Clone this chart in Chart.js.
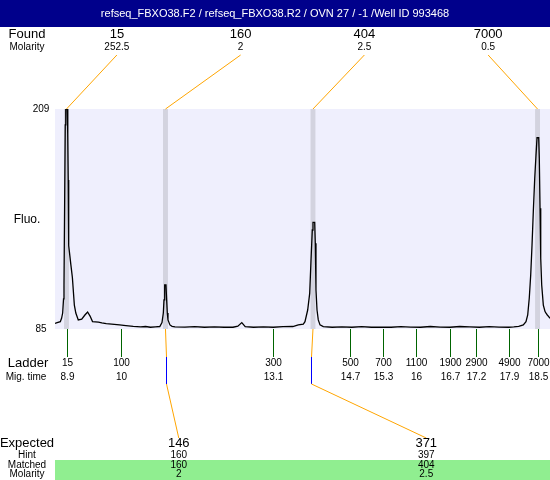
<!DOCTYPE html>
<html>
<head>
<meta charset="utf-8">
<script src="https://cdn.jsdelivr.net/npm/chart.js@4.4.1/dist/chart.umd.min.js"></script>
<style>
    body { margin: 0; background: #fff; }
    canvas { display: block; }
</style>
</head>
<body>
<canvas id="traceChart" width="550" height="480"></canvas>
<script>
var titleText = "refseq_FBXO38.F2 / refseq_FBXO38.R2 / OVN 27 / -1 /Well ID 993468";

// electropherogram trace (migration time, fluorescence)
var traceTime = [8.656, 8.70, 8.764, 8.79, 8.812, 8.83, 8.839, 8.853, 8.865, 8.875, 8.905, 8.915, 8.925, 8.935,
    8.98, 9.01, 9.05, 9.08, 9.13, 9.20, 9.265, 9.32, 9.37, 9.42, 9.54, 9.61, 9.70, 9.81, 9.97, 10.1, 10.25,
    10.4, 10.5, 10.6, 10.7, 10.79, 10.835, 10.862, 10.876, 10.89, 10.916, 10.93, 10.943, 10.957, 10.997, 11.04,
    11.1, 11.3, 11.5, 11.7, 11.9, 12.1, 12.28, 12.38, 12.46, 12.53, 12.7, 12.9, 13.1, 13.3, 13.5, 13.611,
    13.713, 13.747, 13.802, 13.843, 13.870, 13.896, 13.910, 13.945, 13.957, 13.971, 13.992, 14.018, 14.053,
    14.12, 14.3, 14.5, 14.7, 14.9, 15.1, 15.3, 15.5, 15.7, 15.9, 16.1, 16.3, 16.5, 16.7, 16.9, 17.1, 17.3,
    17.5, 17.7, 17.9, 18.0, 18.1, 18.193, 18.248, 18.283, 18.315, 18.344, 18.371, 18.397, 18.426, 18.452,
    18.473, 18.507, 18.519, 18.534, 18.548, 18.568, 18.601, 18.636, 18.656, 18.682, 18.711, 18.737];
var traceFluo = [88.2, 88.6, 89.1, 91.0, 94.0, 102.0, 110.0, 158.0, 200.0, 209.0, 209.0, 195.0, 169.0, 132.0,
    121.0, 114.0, 98.5, 94.0, 90.1, 90.6, 92.9, 94.6, 92.3, 89.2, 88.9, 88.4, 88.0, 87.8, 87.3, 86.9, 86.5,
    86.2, 86.4, 86.0, 86.2, 86.4, 88.6, 94.0, 101.4, 109.8, 109.8, 101.4, 94.0, 90.1, 87.3, 86.5,
    86.2, 86.1, 86.3, 86.0, 86.2, 86.0, 86.0, 86.6, 88.6, 86.3, 86.0, 86.2, 86.0, 86.3, 86.4, 87.3,
    87.8, 89.1, 95.7, 105.1, 123.9, 140.8, 145.1, 145.1, 133.3, 107.0, 95.7, 90.1, 87.3,
    86.3, 86.0, 86.2, 86.0, 86.3, 86.0, 86.1, 86.0, 86.3, 86.1, 86.0, 86.4, 86.1, 86.0, 86.4, 86.2, 86.0,
    86.3, 86.1, 86.0, 86.2, 86.5, 87.3, 89.1, 92.9, 102.5, 115.4, 132.3, 151.1, 170.0, 183.1,
    192.8, 192.8, 181.2, 153.0, 124.9, 109.8, 98.5, 94.8, 93.9, 92.9, 92.0, 91.0];

var timeMin = 8.656;
var timeMax = 18.737;
var fluoTicks = [85, 209];

// found peaks
var foundTimes = [8.89, 10.906, 13.91, 18.483];
var foundSizes = ["15", "160", "404", "7000"];
var foundMolarity = ["252.5", "2", "2.5", "0.5"];

// ladder
var ladderTimes = [8.9, 9.99, 13.1, 14.67, 15.34, 16.01, 16.71, 17.24, 17.91, 18.5];
var ladderSizes = ["15", "100", "300", "500", "700", "1100", "1900", "2900", "4900", "7000"];
var ladderMigTime = ["8.9", "10", "13.1", "14.7", "15.3", "16", "16.7", "17.2", "17.9", "18.5"];

// expected products
var expectedTimes = [10.922, 13.863];
var matchedTimes = [10.906, 13.91];
var expectedSizes = ["146", "371"];
var hintSizes = ["160", "397"];
var matchedSizes = ["160", "404"];
var matchedMolarity = ["2", "2.5"];

var fontName = "'Liberation Sans', Arial, sans-serif";

function drawText(ctx, txt, x, y, size, color, align) {
    ctx.font = size + "px " + fontName;
    ctx.fillStyle = color || "#000";
    ctx.textAlign = align || "center";
    ctx.textBaseline = "middle";
    ctx.fillText(txt, x, y);
}

function drawLine(ctx, x1, y1, x2, y2, color) {
    ctx.beginPath();
    ctx.strokeStyle = color;
    ctx.lineWidth = 1;
    ctx.moveTo(x1, y1);
    ctx.lineTo(x2, y2);
    ctx.stroke();
}

var decorations = {
    id: "decorations",
    beforeDatasetsDraw: function (chart) {
        var ctx = chart.ctx;
        var area = chart.chartArea;
        var xs = chart.scales.x;
        ctx.save();
        ctx.fillStyle = "rgb(239,239,253)";
        ctx.fillRect(area.left, area.top, area.right - area.left, area.bottom - area.top);
        ctx.fillStyle = "rgb(211,211,223)";
        for (var i = 0; i < foundTimes.length; i++) {
            var a = xs.getPixelForValue(foundTimes[i] - 0.05);
            var b = xs.getPixelForValue(foundTimes[i] + 0.05);
            ctx.fillRect(a, area.top, b - a, area.bottom - area.top);
        }
        ctx.restore();
    },
    afterDraw: function (chart) {
        var ctx = chart.ctx;
        var area = chart.chartArea;
        var xs = chart.scales.x;
        var ys = chart.scales.y;
        var w = area.right - area.left;
        ctx.save();

        // title bar
        ctx.fillStyle = "#00008B";
        ctx.fillRect(0, 0, 550, 27);
        drawText(ctx, titleText, 275, 14, 11, "#fff");

        // found row
        drawText(ctx, "Found", 27, 34, 13);
        drawText(ctx, "Molarity", 27, 47, 10);
        for (var i = 0; i < foundSizes.length; i++) {
            var lx = area.left + (i + 0.5) * w / foundSizes.length;
            drawText(ctx, foundSizes[i], lx, 34, 13);
            drawText(ctx, foundMolarity[i], lx, 47, 10);
            drawLine(ctx, lx, 55, xs.getPixelForValue(foundTimes[i]), area.top, "#FFA500");
        }

        // y axis
        for (var j = 0; j < fluoTicks.length; j++) {
            drawText(ctx, String(fluoTicks[j]), 41, ys.getPixelForValue(fluoTicks[j]), 10);
        }
        drawText(ctx, "Fluo.", 27, 220, 12);

        // ladder
        drawText(ctx, "Ladder", 28, 363, 13);
        drawText(ctx, "Mig. time", 26, 377, 10);
        for (var k = 0; k < ladderTimes.length; k++) {
            var tx = Math.round(xs.getPixelForValue(ladderTimes[k])) + 0.5;
            drawLine(ctx, tx, area.bottom, tx, 357, "#006400");
            drawText(ctx, ladderSizes[k], tx, 363, 10);
            drawText(ctx, ladderMigTime[k], tx, 377, 10);
        }

        // expected rows
        ctx.fillStyle = "#90EE90";
        ctx.fillRect(area.left, 460, w, 20);
        drawText(ctx, "Expected", 27, 443, 13);
        drawText(ctx, "Hint", 27, 455, 10);
        drawText(ctx, "Matched", 27, 465, 10);
        drawText(ctx, "Molarity", 27, 474, 10);
        for (var m = 0; m < expectedSizes.length; m++) {
            var ex = area.left + (m + 0.5) * w / expectedSizes.length;
            var px = xs.getPixelForValue(matchedTimes[m]);
            var qx = Math.round(xs.getPixelForValue(expectedTimes[m])) + 0.5;
            drawLine(ctx, px, area.bottom, qx, 357, "#FFA500");
            drawLine(ctx, qx, 357, qx, 384, "#0000FF");
            drawLine(ctx, qx, 384, ex, 438, "#FFA500");
            drawText(ctx, expectedSizes[m], ex, 443, 13);
            drawText(ctx, hintSizes[m], ex, 455, 10);
            drawText(ctx, matchedSizes[m], ex, 465, 10);
            drawText(ctx, matchedMolarity[m], ex, 474, 10);
        }
        ctx.restore();
    }
};

function createChart() {
    var ctx = document.getElementById("traceChart").getContext("2d");
    var points = [];
    for (var i = 0; i < traceTime.length; i++) {
        points.push({ x: traceTime[i], y: traceFluo[i] });
    }

    new Chart(ctx, {
        type: 'line',
        data: {
            datasets: [{
                label: 'Fluo.',
                data: points,
                borderColor: '#000',
                borderWidth: 1.3,
                pointRadius: 0,
                tension: 0,
                fill: false
            }]
        },
        options: {
            responsive: false,
            animation: false,
            devicePixelRatio: 1,
            layout: { padding: { left: 55, right: 0, top: 109, bottom: 151 } },
            scales: {
                x: { type: 'linear', min: timeMin, max: timeMax, display: false },
                y: { min: fluoTicks[0], max: fluoTicks[1], display: false }
            },
            plugins: {
                legend: { display: false },
                tooltip: { enabled: false }
            }
        },
        plugins: [decorations]
    });
}

createChart();
</script>
</body>
</html>
